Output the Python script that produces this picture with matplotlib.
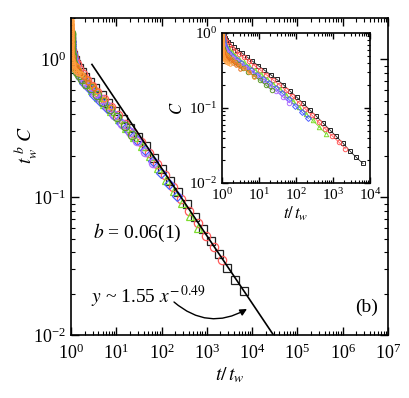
import numpy as np
import matplotlib.pyplot as plt
from matplotlib.ticker import LogLocator, NullFormatter

plt.rcParams['font.family'] = 'serif'
plt.rcParams['font.serif'] = ['Liberation Serif', 'DejaVu Serif']
plt.rcParams['mathtext.fontset'] = 'stix'

# exponent of the scaling t_w^b C
b = 0.06

# time after the waiting time, t - t_w
tau = np.array([0.89, 1.35, 2.04, 3.09, 4.68, 7.08, 10.7, 16.2, 24.5, 37.2, 56.2, 85.1, 129, 195,
                295, 447, 676, 1023, 1549, 2344, 3548, 5370, 8128, 12303, 18621, 28184, 42658, 64565])

# waiting times, one per curve
tw_list = [10, 30, 100, 300, 1000, 3000, 10000, 30000, 100000]

# correlation C(t, t_w)
C_tw10 = [0.933, 0.902, 0.861, 0.813, 0.759, 0.708, 0.646, 0.596, 0.543, 0.479, 0.422, 0.367, 0.320, 0.279,
          0.240, 0.204, 0.168, 0.140, 0.115, 0.0944, 0.0776, 0.0631, 0.0513, 0.0417, 0.0339, 0.0269, 0.0219, 0.0182]
C_tw30 = [0.957, 0.936, 0.904, 0.873, 0.834, 0.796, 0.752, 0.693, 0.640, 0.583, 0.526, 0.474, 0.423, 0.368,
          0.321, 0.276, 0.238, 0.205, 0.172, 0.143, 0.118, 0.0968, 0.0796, 0.0647, 0.0526, 0.0428, 0.0352, 0.0286]
C_tw100 = [0.966, 0.951, 0.929, 0.900, 0.871, 0.832, 0.794, 0.750, 0.700, 0.653, 0.603, 0.550, 0.501, 0.452,
           0.407, 0.363, 0.320, 0.282, 0.243, 0.209, 0.178, 0.150, 0.124, 0.102, 0.0841, 0.0684, 0.0556, 0.0452]
C_tw300 = [0.968, 0.948, 0.925, 0.893, 0.863, 0.830, 0.796, 0.760, 0.726, 0.686, 0.647, 0.604, 0.564, 0.520,
           0.480, 0.438, 0.394, 0.356, 0.317, 0.279, 0.246, 0.214, 0.185, 0.157, 0.131, 0.107, 0.0883, 0.0726]
C_tw1000 = [0.966, 0.946, 0.925, 0.895, 0.867, 0.836, 0.805, 0.780, 0.754, 0.724, 0.695, 0.665, 0.634, 0.603,
            0.569, 0.537, 0.501, 0.462, 0.422, 0.380, 0.343, 0.302, 0.263, 0.226, 0.195, 0.168, 0.141, 0.117]
C_tw3000 = [0.968, 0.948, 0.927, 0.898, 0.869, 0.838, 0.807, 0.782, 0.755, 0.726, 0.698, 0.670, 0.640, 0.611,
            0.583, 0.557, 0.532, 0.502, 0.474, 0.443, 0.413, 0.381, 0.344, 0.306, 0.270, 0.235, 0.202, 0.174]
C_tw10000 = [0.968, 0.948, 0.925, 0.895, 0.865, 0.832, 0.800, 0.773, 0.746, 0.719, 0.695, 0.673, 0.650, 0.630,
             0.610, 0.589, 0.569, 0.552, 0.537, 0.525, 0.513, 0.479, 0.447, 0.412, 0.376, 0.339, 0.299, 0.260]
C_tw30000 = [0.970, 0.951, 0.929, 0.900, 0.871, 0.839, 0.809, 0.785, 0.760, 0.735, 0.710, 0.690, 0.665, 0.646,
             0.625, 0.600, 0.579, 0.560, 0.538, 0.520, 0.502, 0.485, 0.469, 0.453, 0.433, 0.404, 0.372, 0.336]
C_tw100000 = [0.97, 0.95, 0.93, 0.90, 0.87, 0.84, 0.81, 0.785, 0.76, 0.735, 0.71, 0.69, 0.665, 0.645,
              0.625, 0.60, 0.58, 0.56, 0.54, 0.52, 0.50, 0.48, 0.465, 0.45, 0.43, 0.415, 0.40, 0.39]
C_all = [C_tw10, C_tw30, C_tw100, C_tw300, C_tw1000, C_tw3000, C_tw10000, C_tw30000, C_tw100000]

colors = ['#222222', '#ff5a5a', '#7ddc2e', '#4a5cff', '#b070ff', '#5e9a2a', '#ff8a2a', '#e8701a', '#ffa040']
markers = ['s', 'o', '^', 'D', 'o', 'o', 'o', 'o', 'o']
sizes_main = [6, 6, 6, 5, 6, 6, 3.5, 3.5, 3.5]
sizes_inset = [3.2, 3.2, 3.2, 3.0, 3.2, 3.2, 2.5, 2.5, 2.5]

# fitted power law
fit_a, fit_p = 1.55, -0.49


def setup_log_axis(ax, fs, major_len, minor_len):
    for axis in (ax.xaxis, ax.yaxis):
        axis.set_major_locator(LogLocator(base=10, numticks=20))
        axis.set_minor_locator(LogLocator(base=10, subs=np.arange(2, 10), numticks=200))
        axis.set_minor_formatter(NullFormatter())
    ax.tick_params(which='both', direction='in', top=True, right=True, labelsize=fs)
    ax.tick_params(which='major', length=major_len, width=1.0)
    ax.tick_params(which='minor', length=minor_len, width=0.8)
    for s in ax.spines.values():
        s.set_linewidth(1.2)


fig = plt.figure(figsize=(4.09, 3.98), dpi=100)
ax = fig.add_axes([0.1736, 0.1583, 0.7751, 0.7965])

for tw, C, c, m, ms in zip(tw_list, C_all, colors, markers, sizes_main):
    x = 1 + tau / tw
    y = tw ** b * np.array(C)
    ax.plot(x, y, linestyle='none', marker=m, ms=ms, mfc='none', mec=c, mew=0.9)

xf = np.array([2.9, 4e4])
ax.plot(xf, fit_a * xf ** fit_p, color='black', lw=1.2)

ax.set_xscale('log')
ax.set_yscale('log')
ax.set_xlim(1, 1e7)
ax.set_ylim(0.01, 2.0)
setup_log_axis(ax, 13, 6, 3)
ax.tick_params(axis='x', pad=6)

ax.set_xlabel(r'$t/\,t_{w}$', fontsize=14, labelpad=2)
fig.text(26 / 409, 1 - 145 / 398, r'$t_{w}^{\;b}\ C$', rotation=90, fontsize=14,
         ha='center', va='center')

fig.text(93 / 409, 1 - 233 / 398, r'$b$ = 0.06(1)', fontsize=14, ha='left', va='center')
fig.text(91 / 409, 1 - 297 / 398, r'$y$ ~ 1.55 $x^{-\,0.49}$', fontsize=14, ha='left', va='center')
fig.text(367 / 409, 1 - 307 / 398, '(b)', fontsize=14, ha='center', va='center')
ax.annotate('', xy=(247 / 409, 1 - 309 / 398), xycoords='figure fraction',
            xytext=(174 / 409, 1 - 302 / 398), textcoords='figure fraction',
            arrowprops=dict(arrowstyle='-|>', color='black', lw=1.0, mutation_scale=10,
                            connectionstyle='arc3,rad=0.35', shrinkA=0, shrinkB=0))

# inset: C against t/t_w
ins = fig.add_axes([0.5428, 0.5402, 0.3619, 0.3769])
for tw, C, c, m, ms in zip(tw_list, C_all, colors, markers, sizes_inset):
    x = 1 + tau / tw
    ins.plot(x, C, color=c, lw=0.6, marker=m, ms=ms, mfc='none', mec=c, mew=0.7)
ins.set_xscale('log')
ins.set_yscale('log')
ins.set_xlim(1, 1e4)
ins.set_ylim(0.01, 1)
setup_log_axis(ins, 11, 4, 2)
ins.tick_params(axis='x', pad=3)
ins.set_xlabel(r'$t/\,t_{w}$', fontsize=12, labelpad=1)
ins.set_ylabel(r'$C$', fontsize=12, labelpad=2)

fig.savefig('out.png', dpi=100)
